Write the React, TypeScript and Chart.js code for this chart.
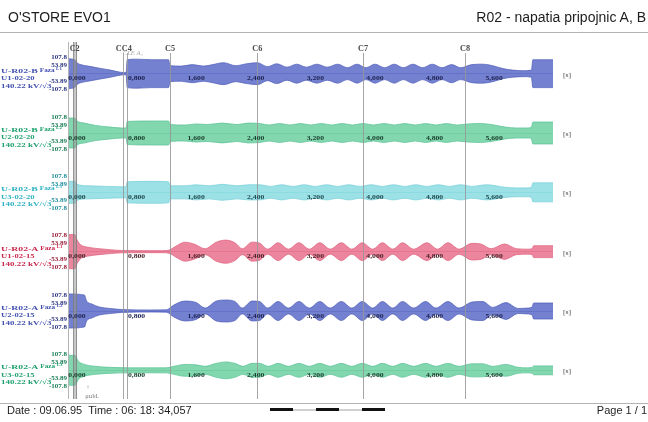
import { useEffect, useRef } from 'react';
import { Chart, registerables } from 'chart.js';

Chart.register(...registerables);

// ---- data ----
const rowNames = ['U-R02-B', 'U-R02-B', 'U-R02-B', 'U-R02-A', 'U-R02-A', 'U-R02-A'];
const rowPhases = ['L1', 'L2', 'L3', 'L1', 'L2', 'L3'];
const rowCodes = ['U1-02-20', 'U2-02-20', 'U3-02-20', 'U1-02-15', 'U2-02-15', 'U3-02-15'];
const rowRating = '140.22 kV/√3';
const yTicks = [107.8, 53.89, 0, -53.89, -107.8];
const timeTicks = [0, 0.8, 1.6, 2.4, 3.2, 4.0, 4.8, 5.6];
const cursorNames = ['C2', 'CC4', 'C5', 'C6', 'C7', 'C8'];
const cursorLabelTimes = [-0.03, 0.63, 1.25, 2.42, 3.84, 5.21];
const cursorLines = [0.62, 0.67, 1.25, 2.42, 3.84, 5.21];
const c2Band = [-0.052, 0.001];
const tMin = -0.12;
const tMax = 6.39;

const r1T = [-0.12,-0.03,0,0.05,0.15,0.3,0.45,0.58,0.66,0.675,0.8,1.0,1.23,1.25,1.4,1.55,1.7,1.82,1.97,2.13,2.28,2.42,2.56,2.68,2.82,2.95,3.08,3.22,3.36,3.5,3.63,3.76,3.88,4.0,4.13,4.26,4.38,4.51,4.64,4.77,4.9,5.03,5.15,5.3,5.45,5.58,5.72,5.85,6.0,6.1,6.12,6.39];
const r1A = [101,94,74,61,51,37,24,10,7,94,98,94,94,54,51,61,51,61,74,54,67,74,47,67,44,64,44,64,44,64,40,64,40,64,40,64,40,64,40,64,40,61,40,61,64,54,34,24,20,24,94,94];

const r2T = [-0.12,-0.03,0,0.1,0.25,0.45,0.6,0.66,0.675,1.0,1.23,1.25,1.45,1.6,1.75,1.95,2.15,2.3,2.45,2.58,2.72,2.86,3.0,3.14,3.28,3.42,3.56,3.7,3.84,3.98,4.12,4.26,4.4,4.54,4.68,4.82,4.96,5.1,5.25,5.42,5.6,5.75,5.9,6.05,6.1,6.12,6.39];
const r2A = [101,101,81,67,51,40,34,34,78,81,81,57,54,61,57,67,57,67,64,54,64,54,64,54,64,54,64,54,64,54,64,54,64,54,64,54,64,54,61,64,54,40,34,34,40,74,74];

const r3T = [-0.12,-0.03,0,0.15,0.4,0.66,0.675,1.0,1.23,1.25,1.45,1.6,1.78,1.95,2.15,2.3,2.45,2.6,2.75,2.9,3.05,3.2,3.35,3.5,3.65,3.8,3.95,4.1,4.25,4.4,4.55,4.7,4.85,5.0,5.15,5.3,5.5,5.75,5.9,6.05,6.1,6.12,6.39];
const r3A = [74,74,54,44,40,37,71,74,71,44,44,51,44,54,44,51,51,40,51,40,51,40,51,40,51,40,51,40,51,40,51,40,51,40,51,40,51,34,30,30,34,64,64];

const r4T = [-0.12,-0.03,0,0.05,0.15,0.3,0.45,0.6,0.9,1.15,1.25,1.32,1.45,1.58,1.72,1.87,2.0,2.12,2.22,2.35,2.45,2.56,2.7,2.84,2.98,3.12,3.26,3.4,3.55,3.69,3.83,3.97,4.1,4.24,4.37,4.52,4.7,4.84,4.98,5.13,5.3,5.42,5.56,5.74,5.9,6.05,6.11,6.13,6.39];
const r4A = [115,115,81,47,30,20,13,8,7,7,13,34,64,50,20,64,78,60,20,64,58,17,60,17,60,17,60,17,60,17,60,17,60,17,60,17,60,17,60,17,56,52,20,52,20,17,20,40,40];

const r5T = [-0.12,0.1,0.13,0.2,0.3,0.45,0.6,1.0,1.2,1.3,1.45,1.6,1.72,1.87,2.0,2.12,2.22,2.35,2.45,2.56,2.7,2.84,2.98,3.12,3.26,3.4,3.55,3.69,3.83,3.97,4.1,4.24,4.37,4.52,4.68,4.82,4.98,5.13,5.3,5.45,5.58,5.76,5.92,6.05,6.11,6.13,6.39];
const r5A = [115,108,67,47,27,17,10,7,8,40,67,57,20,67,74,64,20,67,64,20,64,20,64,20,64,20,64,20,64,20,64,20,64,20,64,20,64,20,60,64,24,57,17,20,27,54,54];

const r6T = [-0.12,-0.03,0.02,0.1,0.25,0.45,0.7,1.0,1.2,1.3,1.45,1.6,1.72,1.87,2.0,2.12,2.23,2.35,2.45,2.57,2.7,2.84,2.98,3.12,3.26,3.4,3.55,3.69,3.83,3.97,4.1,4.24,4.37,4.52,4.68,4.82,4.98,5.13,5.3,5.45,5.58,5.76,5.92,6.05,6.11,6.13,6.39];
const r6A = [101,101,61,40,27,20,17,17,17,27,40,37,27,47,57,47,27,47,47,27,47,27,47,27,47,27,47,27,47,27,47,27,47,27,47,27,47,27,44,44,27,40,20,17,20,30,30];

const rowTimes = [r1T, r2T, r3T, r4T, r5T, r6T];
const rowAmps = [r1A, r2A, r3A, r4A, r5A, r6A];

// ---- styles ----
const rowFill = ['rgba(104,118,204,0.92)', 'rgba(120,212,168,0.92)', 'rgba(148,222,228,0.92)', 'rgba(234,124,150,0.92)', 'rgba(104,118,204,0.92)', 'rgba(120,212,168,0.92)'];
const rowEdge = ['rgba(80,94,186,0.9)', 'rgba(88,194,148,0.9)', 'rgba(116,206,216,0.9)', 'rgba(222,96,124,0.9)', 'rgba(80,94,186,0.9)', 'rgba(88,194,148,0.9)'];
const rowLine = ['#34429a', '#1e9868', '#36b0c0', '#c02a4c', '#34429a', '#1e9868'];
const rowText = ['#4250b0', '#1fa06e', '#2eb2c2', '#c8284c', '#4250b0', '#1fa06e'];
const rowTickText = ['#2a3480', '#157a52', '#1f8c9a', '#9a1c38', '#2a3480', '#157a52'];
const rowTimeText = ['#1c2250', '#18402e', '#1c4a50', '#4a2028', '#1c2250', '#18402e'];
const SERIF = '"Liberation Serif", "DejaVu Serif", serif';

function stretched(ctx: any, text: string, x: number, y: number, sx: number, sy: number, align: string) {
  ctx.save();
  ctx.translate(x, y);
  ctx.scale(sx, sy);
  ctx.textAlign = align;
  ctx.textBaseline = 'middle';
  ctx.fillText(text, 0, 0);
  const w = ctx.measureText(text).width * sx;
  ctx.restore();
  return w;
}

const overlayPlugin = {
  id: 'overlay',
  afterDatasetsDraw(chart: any) {
    const ctx = chart.ctx;
    const xs = chart.scales.x;
    const area = chart.chartArea;
    ctx.save();
    ctx.strokeStyle = '#b4b4b4';
    ctx.lineWidth = 1;
    ctx.beginPath();
    ctx.moveTo(area.left + 0.5, area.top - 2);
    ctx.lineTo(area.left + 0.5, area.bottom - 1);
    ctx.stroke();
    const b1 = xs.getPixelForValue(c2Band[0]);
    const b2 = xs.getPixelForValue(c2Band[1]);
    ctx.fillStyle = 'rgba(150,150,150,0.5)';
    ctx.fillRect(b1, area.top - 2, b2 - b1, area.bottom - area.top + 1);
    ctx.strokeStyle = 'rgba(120,120,120,0.7)';
    ctx.beginPath();
    ctx.moveTo(b1 + 0.5, area.top - 2);
    ctx.lineTo(b1 + 0.5, area.bottom - 1);
    ctx.moveTo(b2 - 0.5, area.top - 2);
    ctx.lineTo(b2 - 0.5, area.bottom - 1);
    ctx.stroke();
    ctx.strokeStyle = 'rgba(150,150,150,0.85)';
    cursorLines.forEach((t) => {
      const x = Math.round(xs.getPixelForValue(t)) + 0.5;
      ctx.beginPath();
      ctx.moveTo(x, area.top + 9);
      ctx.lineTo(x, area.bottom - 1);
      ctx.stroke();
    });
    ctx.restore();
  },
  afterDraw(chart: any) {
    const ctx = chart.ctx;
    const xs = chart.scales.x;
    const area = chart.chartArea;
    ctx.save();
    ctx.fillStyle = '#4a4a4a';
    ctx.font = `bold 7.5px ${SERIF}`;
    cursorNames.forEach((name, i) => {
      stretched(ctx, name, xs.getPixelForValue(cursorLabelTimes[i]), area.top + 5, 1.1, 1, 'center');
    });
    ctx.fillStyle = '#a8a8a8';
    ctx.font = `italic 6px ${SERIF}`;
    stretched(ctx, 'CLE A₄', xs.getPixelForValue(0.75), area.top + 9, 1.1, 1, 'center');

    for (let i = 0; i < 6; i++) {
      const ys = chart.scales['y' + i];
      const c = ys.getPixelForValue(0);
      ctx.fillStyle = rowText[i];
      ctx.font = `bold 7.5px ${SERIF}`;
      const w = stretched(ctx, rowNames[i], 1, c - 3, 1.3, 0.95, 'left');
      ctx.font = `bold 6px ${SERIF}`;
      const w2 = stretched(ctx, 'Faza', 3 + w, c - 3.5, 1.2, 0.95, 'left');
      ctx.font = `bold 4.5px ${SERIF}`;
      stretched(ctx, rowPhases[i], 4.5 + w + w2, c - 5, 1.1, 1, 'left');
      ctx.font = `bold 7.5px ${SERIF}`;
      stretched(ctx, rowCodes[i], 1, c + 4.5, 1.15, 0.95, 'left');
      stretched(ctx, rowRating, 1, c + 12, 1.2, 0.95, 'left');
      ctx.fillStyle = rowTimeText[i];
      ctx.font = `bold 7px ${SERIF}`;
      timeTicks.forEach((t) => {
        const label = t.toFixed(3).replace('.', ',');
        stretched(ctx, label, xs.getPixelForValue(t), c + 5, 1.1, 1, 'center');
      });
      ctx.fillStyle = '#444';
      ctx.font = `7px ${SERIF}`;
      stretched(ctx, '[s]', area.right + 14, c + 1, 1.1, 1, 'center');
    }
    ctx.fillStyle = '#777';
    ctx.font = `6px ${SERIF}`;
    const ax = xs.getPixelForValue(0.15);
    stretched(ctx, '↑', ax, area.bottom - 13, 1, 1, 'center');
    stretched(ctx, 'μuld.', ax + 4, area.bottom - 4, 1.1, 1, 'center');
    ctx.restore();
  },
};

function buildConfig(): any {
  const datasets: any[] = [];
  const scales: any = {
    x: { type: 'linear', min: tMin, max: tMax, display: false },
  };
  for (let i = 0; i < 6; i++) {
    const T = rowTimes[i];
    const A = rowAmps[i];
    datasets.push({
      data: T.map((t, k) => ({ x: t, y: A[k] })),
      yAxisID: 'y' + i,
      borderColor: rowEdge[i],
      borderWidth: 0.8,
      pointRadius: 0,
      fill: false,
      cubicInterpolationMode: 'monotone',
    });
    datasets.push({
      data: T.map((t, k) => ({ x: t, y: -A[k] })),
      yAxisID: 'y' + i,
      borderColor: rowEdge[i],
      borderWidth: 0.8,
      pointRadius: 0,
      backgroundColor: rowFill[i],
      fill: '-1',
      cubicInterpolationMode: 'monotone',
    });
    scales['y' + i] = {
      type: 'linear',
      position: 'left',
      stack: 'rows',
      stackWeight: 1,
      weight: 6 - i,
      min: -200,
      max: 200,
      z: 1,
      afterBuildTicks: (s: any) => {
        s.ticks = yTicks.map((v) => ({ value: v }));
      },
      afterFit: (s: any) => {
        s.width = 68;
      },
      ticks: {
        autoSkip: false,
        padding: 1,
        color: rowTickText[i],
        font: { family: SERIF, size: 7, weight: 'bold' },
        callback: (v: number) => (v === 0 ? '' : String(v)),
      },
      grid: {
        drawTicks: false,
        lineWidth: 1,
        color: (c: any) => (c.tick && c.tick.value === 0 ? rowLine[i] : 'rgba(0,0,0,0)'),
      },
      border: { display: false },
    };
  }
  return {
    type: 'line',
    data: { datasets },
    options: {
      responsive: false,
      animation: false,
      devicePixelRatio: 1,
      layout: { padding: { top: 44, bottom: 22, left: 0, right: 95 } },
      plugins: { legend: { display: false }, tooltip: { enabled: false } },
      scales,
    },
    plugins: [overlayPlugin],
  };
}

export default function App() {
  const ref = useRef<HTMLCanvasElement>(null);
  useEffect(() => {
    const chart = new Chart(ref.current as HTMLCanvasElement, buildConfig());
    return () => chart.destroy();
  }, []);
  const abs: any = { position: 'absolute' };
  return (
    <div
      style={{
        position: 'fixed',
        left: 0,
        top: 0,
        width: 648,
        height: 422,
        background: '#fff',
        overflow: 'hidden',
        fontFamily: '"Liberation Sans", Arial, sans-serif',
        color: '#1e1e1e',
      }}
    >
      <canvas ref={ref} width={648} height={422} style={{ ...abs, left: 0, top: 0, width: 648, height: 422 }} />
      <div style={{ ...abs, left: 8, top: 9, fontSize: 14, lineHeight: '16px', whiteSpace: 'pre' }}>O'STORE EVO1</div>
      <div style={{ ...abs, right: 2, top: 9, fontSize: 14, lineHeight: '16px', whiteSpace: 'pre' }}>
        R02 - napatia pripojnic A, B
      </div>
      <div style={{ ...abs, left: 0, top: 32, width: 648, height: 1, background: '#b4b4b4' }} />
      <div style={{ ...abs, left: 0, top: 403, width: 648, height: 1, background: '#b4b4b4' }} />
      <div style={{ ...abs, left: 7, top: 404, fontSize: 11, lineHeight: '13px', whiteSpace: 'pre' }}>
        Date : 09.06.95  Time : 06: 18: 34,057
      </div>
      <div style={{ ...abs, left: 270, top: 408, width: 23, height: 3, background: '#111' }} />
      <div style={{ ...abs, left: 293, top: 409, width: 23, height: 2, background: '#d0d0d0' }} />
      <div style={{ ...abs, left: 316, top: 408, width: 23, height: 3, background: '#111' }} />
      <div style={{ ...abs, left: 339, top: 409, width: 23, height: 2, background: '#d0d0d0' }} />
      <div style={{ ...abs, left: 362, top: 408, width: 23, height: 3, background: '#111' }} />
      <div style={{ ...abs, right: 1, top: 404, fontSize: 11, lineHeight: '13px', whiteSpace: 'pre' }}>Page 1 / 1</div>
    </div>
  );
}
